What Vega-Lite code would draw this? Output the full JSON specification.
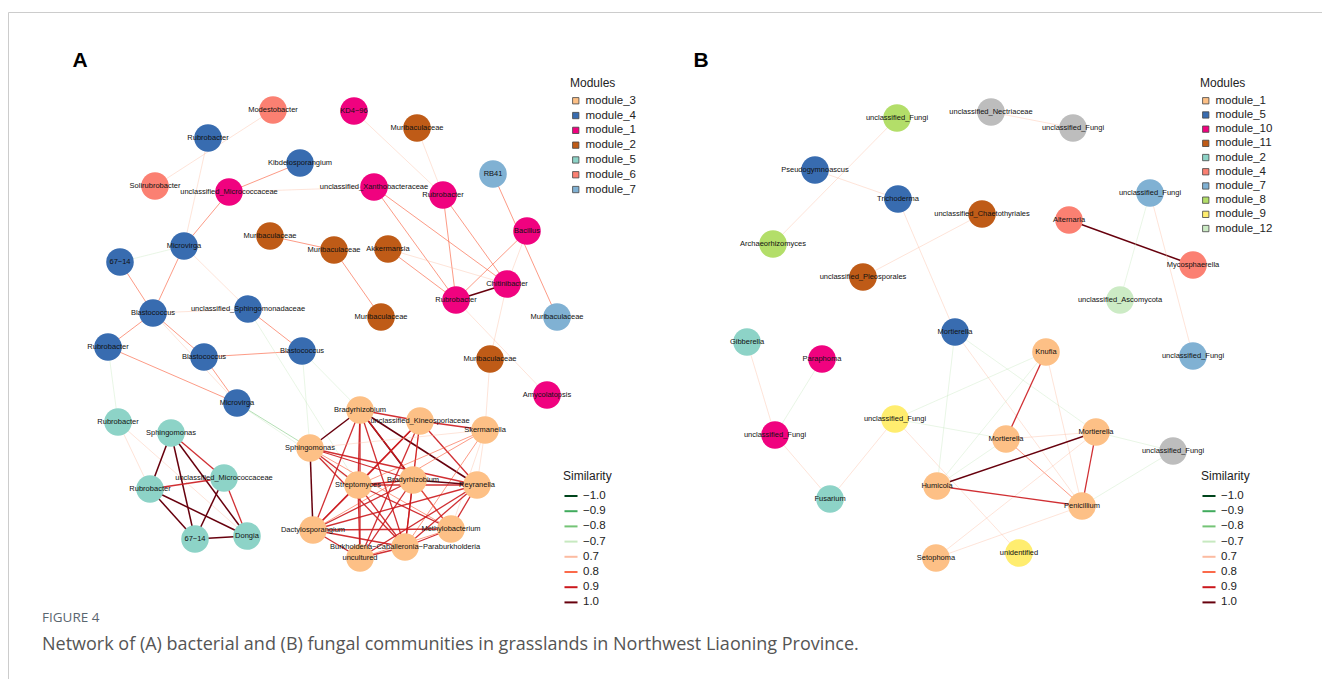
{
  "$schema": "https://vega.github.io/schema/vega-lite/v6.json",
  "width": 1314,
  "height": 667,
  "autosize": {"type": "none"},
  "padding": {"left": 8, "top": 12, "right": 0, "bottom": 0},
  "title": {
    "text": "FIGURE 4",
    "subtitle": "Network of (A) bacterial and (B) fungal communities in grasslands in Northwest Liaoning Province.",
    "orient": "bottom", "anchor": "start", "frame": "group",
    "offset": -68, "dx": 34,
    "font": "Open Sans", "fontSize": 13.5, "fontWeight": "normal", "color": "#5a6670",
    "subtitleFont": "Open Sans", "subtitleFontSize": 18, "subtitleColor": "#555555", "subtitlePadding": 11
  },
  "config": {
    "view": {"stroke": "#cccccc", "strokeWidth": 1},
    "font": "Liberation Sans",
    "legend": {
      "labelFont": "Liberation Sans", "titleFont": "Liberation Sans",
      "labelFontSize": 11.5, "titleFontSize": 12, "titleFontWeight": "normal",
      "labelColor": "#222222", "titleColor": "#222222", "rowPadding": 1.5, "titlePadding": 5
    }
  },
  "datasets": {
    "nodes": [
      {"id": "a1", "panel": "A", "name": "Modestobacter", "module": "module_6", "x": 273, "y": 110},
      {"id": "a2", "panel": "A", "name": "KD4−96", "module": "module_1", "x": 354, "y": 111},
      {"id": "a3", "panel": "A", "name": "Muribaculaceae", "module": "module_2", "x": 417, "y": 128},
      {"id": "a4", "panel": "A", "name": "Rubrobacter", "module": "module_4", "x": 208, "y": 138},
      {"id": "a5", "panel": "A", "name": "Kibdelosporangium", "module": "module_4", "x": 300, "y": 163},
      {"id": "a6", "panel": "A", "name": "RB41", "module": "module_7", "x": 493, "y": 174},
      {"id": "a7", "panel": "A", "name": "Solirubrobacter", "module": "module_6", "x": 155, "y": 186},
      {"id": "a8", "panel": "A", "name": "unclassified_Micrococcaceae", "module": "module_1", "x": 229, "y": 192},
      {"id": "a9", "panel": "A", "name": "unclassified_Xanthobacteraceae", "module": "module_1", "x": 374, "y": 187},
      {"id": "a10", "panel": "A", "name": "Rubrobacter", "module": "module_1", "x": 443, "y": 195},
      {"id": "a11", "panel": "A", "name": "Bacillus", "module": "module_1", "x": 527, "y": 231},
      {"id": "a12", "panel": "A", "name": "Muribaculaceae", "module": "module_2", "x": 270, "y": 236},
      {"id": "a13", "panel": "A", "name": "Muribaculaceae", "module": "module_2", "x": 334, "y": 250},
      {"id": "a14", "panel": "A", "name": "Akkermansia", "module": "module_2", "x": 388, "y": 249},
      {"id": "a15", "panel": "A", "name": "Microvirga", "module": "module_4", "x": 184, "y": 246},
      {"id": "a16", "panel": "A", "name": "67−14", "module": "module_4", "x": 120, "y": 262},
      {"id": "a17", "panel": "A", "name": "Chitinibacter", "module": "module_1", "x": 507, "y": 284},
      {"id": "a18", "panel": "A", "name": "Rubrobacter", "module": "module_1", "x": 456, "y": 300},
      {"id": "a19", "panel": "A", "name": "Blastococcus", "module": "module_4", "x": 153, "y": 313},
      {"id": "a20", "panel": "A", "name": "unclassified_Sphingomonadaceae", "module": "module_4", "x": 248, "y": 309},
      {"id": "a21", "panel": "A", "name": "Muribaculaceae", "module": "module_2", "x": 381, "y": 317},
      {"id": "a22", "panel": "A", "name": "Muribaculaceae", "module": "module_7", "x": 557, "y": 317},
      {"id": "a23", "panel": "A", "name": "Rubrobacter", "module": "module_4", "x": 108, "y": 347},
      {"id": "a24", "panel": "A", "name": "Blastococcus", "module": "module_4", "x": 204, "y": 357},
      {"id": "a25", "panel": "A", "name": "Blastococcus", "module": "module_4", "x": 302, "y": 351},
      {"id": "a26", "panel": "A", "name": "Muribaculaceae", "module": "module_2", "x": 490, "y": 359},
      {"id": "a27", "panel": "A", "name": "Amycolatopsis", "module": "module_1", "x": 547, "y": 395},
      {"id": "a28", "panel": "A", "name": "Microvirga", "module": "module_4", "x": 237, "y": 403},
      {"id": "a29", "panel": "A", "name": "Bradyrhizobium", "module": "module_3", "x": 360, "y": 410},
      {"id": "a30", "panel": "A", "name": "unclassified_Kineosporiaceae", "module": "module_3", "x": 420, "y": 421},
      {"id": "a31", "panel": "A", "name": "Skermanella", "module": "module_3", "x": 485, "y": 430},
      {"id": "a32", "panel": "A", "name": "Rubrobacter", "module": "module_5", "x": 118, "y": 422},
      {"id": "a33", "panel": "A", "name": "Sphingomonas", "module": "module_5", "x": 171, "y": 433},
      {"id": "a34", "panel": "A", "name": "Sphingomonas", "module": "module_3", "x": 310, "y": 448},
      {"id": "a35", "panel": "A", "name": "unclassified_Micrococcaceae", "module": "module_5", "x": 224, "y": 478},
      {"id": "a36", "panel": "A", "name": "Streptomyces", "module": "module_3", "x": 358, "y": 485},
      {"id": "a37", "panel": "A", "name": "Bradyrhizobium", "module": "module_3", "x": 413, "y": 480},
      {"id": "a38", "panel": "A", "name": "Reyranella", "module": "module_3", "x": 477, "y": 485},
      {"id": "a39", "panel": "A", "name": "Rubrobacter", "module": "module_5", "x": 150, "y": 489},
      {"id": "a40", "panel": "A", "name": "Dactylosporangium", "module": "module_3", "x": 313, "y": 530},
      {"id": "a41", "panel": "A", "name": "Methylobacterium", "module": "module_3", "x": 451, "y": 529},
      {"id": "a42", "panel": "A", "name": "Burkholderia−Caballeronia−Paraburkholderia", "module": "module_3", "x": 405, "y": 547},
      {"id": "a43", "panel": "A", "name": "uncultured", "module": "module_3", "x": 360, "y": 558},
      {"id": "a44", "panel": "A", "name": "67−14", "module": "module_5", "x": 195, "y": 539},
      {"id": "a45", "panel": "A", "name": "Dongia", "module": "module_5", "x": 247, "y": 536},
      {"id": "b1", "panel": "B", "name": "unclassified_Fungi", "module": "module_8", "x": 897, "y": 118},
      {"id": "b2", "panel": "B", "name": "unclassified_Nectriaceae", "module": "none", "x": 991, "y": 112},
      {"id": "b3", "panel": "B", "name": "unclassified_Fungi", "module": "none", "x": 1073, "y": 128},
      {"id": "b4", "panel": "B", "name": "Pseudogymnoascus", "module": "module_5", "x": 815, "y": 170},
      {"id": "b5", "panel": "B", "name": "Trichoderma", "module": "module_5", "x": 898, "y": 199},
      {"id": "b6", "panel": "B", "name": "unclassified_Fungi", "module": "module_7", "x": 1150, "y": 193},
      {"id": "b7", "panel": "B", "name": "unclassified_Chaetothyriales", "module": "module_11", "x": 982, "y": 214},
      {"id": "b8", "panel": "B", "name": "Alternaria", "module": "module_4", "x": 1069, "y": 220},
      {"id": "b9", "panel": "B", "name": "Archaeorhizomyces", "module": "module_8", "x": 773, "y": 244},
      {"id": "b10", "panel": "B", "name": "Mycosphaerella", "module": "module_4", "x": 1193, "y": 265},
      {"id": "b11", "panel": "B", "name": "unclassified_Pleosporales", "module": "module_11", "x": 863, "y": 277},
      {"id": "b12", "panel": "B", "name": "unclassified_Ascomycota", "module": "module_12", "x": 1120, "y": 300},
      {"id": "b13", "panel": "B", "name": "Mortierella", "module": "module_5", "x": 955, "y": 332},
      {"id": "b14", "panel": "B", "name": "Gibberella", "module": "module_2", "x": 747, "y": 342},
      {"id": "b15", "panel": "B", "name": "Knufia", "module": "module_1", "x": 1046, "y": 352},
      {"id": "b16", "panel": "B", "name": "unclassified_Fungi", "module": "module_7", "x": 1193, "y": 356},
      {"id": "b17", "panel": "B", "name": "Paraphoma", "module": "module_10", "x": 822, "y": 359},
      {"id": "b18", "panel": "B", "name": "unclassified_Fungi", "module": "module_9", "x": 895, "y": 419},
      {"id": "b19", "panel": "B", "name": "unclassified_Fungi", "module": "module_10", "x": 775, "y": 435},
      {"id": "b20", "panel": "B", "name": "Mortierella", "module": "module_1", "x": 1006, "y": 439},
      {"id": "b21", "panel": "B", "name": "Mortierella", "module": "module_1", "x": 1096, "y": 432},
      {"id": "b22", "panel": "B", "name": "unclassified_Fungi", "module": "none", "x": 1173, "y": 451},
      {"id": "b23", "panel": "B", "name": "Humicola", "module": "module_1", "x": 937, "y": 486},
      {"id": "b24", "panel": "B", "name": "Fusarium", "module": "module_2", "x": 830, "y": 499},
      {"id": "b25", "panel": "B", "name": "Penicillium", "module": "module_1", "x": 1082, "y": 506},
      {"id": "b26", "panel": "B", "name": "Setophoma", "module": "module_1", "x": 936, "y": 558},
      {"id": "b27", "panel": "B", "name": "unidentified", "module": "module_9", "x": 1019, "y": 553}
    ],
    "edges": [
      {"panel": "A", "source": "a1", "target": "a7", "sim": "0.7"},
      {"panel": "A", "source": "a4", "target": "a15", "sim": "0.7"},
      {"panel": "A", "source": "a5", "target": "a8", "sim": "0.8"},
      {"panel": "A", "source": "a8", "target": "a9", "sim": "0.7"},
      {"panel": "A", "source": "a8", "target": "a15", "sim": "0.8"},
      {"panel": "A", "source": "a2", "target": "a10", "sim": "0.7"},
      {"panel": "A", "source": "a3", "target": "a10", "sim": "0.7"},
      {"panel": "A", "source": "a9", "target": "a18", "sim": "0.8"},
      {"panel": "A", "source": "a9", "target": "a17", "sim": "0.8"},
      {"panel": "A", "source": "a10", "target": "a18", "sim": "0.8"},
      {"panel": "A", "source": "a10", "target": "a17", "sim": "0.8"},
      {"panel": "A", "source": "a6", "target": "a22", "sim": "0.8"},
      {"panel": "A", "source": "a11", "target": "a18", "sim": "0.8"},
      {"panel": "A", "source": "a11", "target": "a17", "sim": "0.7"},
      {"panel": "A", "source": "a17", "target": "a18", "sim": "1.0"},
      {"panel": "A", "source": "a14", "target": "a18", "sim": "0.8"},
      {"panel": "A", "source": "a14", "target": "a17", "sim": "0.7"},
      {"panel": "A", "source": "a12", "target": "a13", "sim": "0.8"},
      {"panel": "A", "source": "a13", "target": "a21", "sim": "0.8"},
      {"panel": "A", "source": "a26", "target": "a17", "sim": "0.7"},
      {"panel": "A", "source": "a26", "target": "a31", "sim": "0.7"},
      {"panel": "A", "source": "a27", "target": "a18", "sim": "0.7"},
      {"panel": "A", "source": "a15", "target": "a16", "sim": "−0.7"},
      {"panel": "A", "source": "a15", "target": "a19", "sim": "0.8"},
      {"panel": "A", "source": "a16", "target": "a19", "sim": "0.8"},
      {"panel": "A", "source": "a19", "target": "a20", "sim": "0.7"},
      {"panel": "A", "source": "a19", "target": "a23", "sim": "0.8"},
      {"panel": "A", "source": "a19", "target": "a24", "sim": "0.8"},
      {"panel": "A", "source": "a19", "target": "a28", "sim": "0.7"},
      {"panel": "A", "source": "a24", "target": "a25", "sim": "0.8"},
      {"panel": "A", "source": "a20", "target": "a25", "sim": "0.8"},
      {"panel": "A", "source": "a23", "target": "a28", "sim": "0.8"},
      {"panel": "A", "source": "a24", "target": "a28", "sim": "0.8"},
      {"panel": "A", "source": "a28", "target": "a34", "sim": "−0.8"},
      {"panel": "A", "source": "a28", "target": "a36", "sim": "−0.7"},
      {"panel": "A", "source": "a15", "target": "a20", "sim": "0.7"},
      {"panel": "A", "source": "a25", "target": "a34", "sim": "−0.7"},
      {"panel": "A", "source": "a25", "target": "a29", "sim": "−0.7"},
      {"panel": "A", "source": "a20", "target": "a36", "sim": "−0.7"},
      {"panel": "A", "source": "a32", "target": "a39", "sim": "0.7"},
      {"panel": "A", "source": "a23", "target": "a32", "sim": "−0.7"},
      {"panel": "A", "source": "a32", "target": "a45", "sim": "0.7"},
      {"panel": "A", "source": "a33", "target": "a39", "sim": "1.0"},
      {"panel": "A", "source": "a33", "target": "a44", "sim": "1.0"},
      {"panel": "A", "source": "a33", "target": "a45", "sim": "1.0"},
      {"panel": "A", "source": "a33", "target": "a35", "sim": "0.9"},
      {"panel": "A", "source": "a39", "target": "a35", "sim": "0.9"},
      {"panel": "A", "source": "a39", "target": "a44", "sim": "1.0"},
      {"panel": "A", "source": "a39", "target": "a45", "sim": "1.0"},
      {"panel": "A", "source": "a35", "target": "a44", "sim": "1.0"},
      {"panel": "A", "source": "a35", "target": "a45", "sim": "0.9"},
      {"panel": "A", "source": "a44", "target": "a45", "sim": "1.0"},
      {"panel": "A", "source": "a29", "target": "a34", "sim": "1.0"},
      {"panel": "A", "source": "a29", "target": "a30", "sim": "0.9"},
      {"panel": "A", "source": "a29", "target": "a38", "sim": "1.0"},
      {"panel": "A", "source": "a29", "target": "a37", "sim": "1.0"},
      {"panel": "A", "source": "a29", "target": "a36", "sim": "0.9"},
      {"panel": "A", "source": "a29", "target": "a40", "sim": "0.9"},
      {"panel": "A", "source": "a29", "target": "a42", "sim": "0.9"},
      {"panel": "A", "source": "a29", "target": "a43", "sim": "0.9"},
      {"panel": "A", "source": "a29", "target": "a41", "sim": "0.9"},
      {"panel": "A", "source": "a30", "target": "a31", "sim": "0.9"},
      {"panel": "A", "source": "a30", "target": "a38", "sim": "0.9"},
      {"panel": "A", "source": "a30", "target": "a36", "sim": "0.9"},
      {"panel": "A", "source": "a30", "target": "a40", "sim": "0.9"},
      {"panel": "A", "source": "a30", "target": "a37", "sim": "0.8"},
      {"panel": "A", "source": "a30", "target": "a43", "sim": "0.9"},
      {"panel": "A", "source": "a30", "target": "a42", "sim": "0.9"},
      {"panel": "A", "source": "a31", "target": "a38", "sim": "0.7"},
      {"panel": "A", "source": "a31", "target": "a34", "sim": "0.7"},
      {"panel": "A", "source": "a31", "target": "a36", "sim": "0.8"},
      {"panel": "A", "source": "a31", "target": "a40", "sim": "0.8"},
      {"panel": "A", "source": "a31", "target": "a42", "sim": "0.8"},
      {"panel": "A", "source": "a31", "target": "a41", "sim": "0.7"},
      {"panel": "A", "source": "a34", "target": "a40", "sim": "1.0"},
      {"panel": "A", "source": "a34", "target": "a36", "sim": "0.9"},
      {"panel": "A", "source": "a34", "target": "a37", "sim": "0.9"},
      {"panel": "A", "source": "a34", "target": "a38", "sim": "0.9"},
      {"panel": "A", "source": "a34", "target": "a42", "sim": "0.9"},
      {"panel": "A", "source": "a34", "target": "a41", "sim": "0.8"},
      {"panel": "A", "source": "a36", "target": "a37", "sim": "0.9"},
      {"panel": "A", "source": "a36", "target": "a38", "sim": "0.9"},
      {"panel": "A", "source": "a36", "target": "a40", "sim": "0.9"},
      {"panel": "A", "source": "a36", "target": "a42", "sim": "0.9"},
      {"panel": "A", "source": "a36", "target": "a43", "sim": "0.9"},
      {"panel": "A", "source": "a36", "target": "a41", "sim": "0.9"},
      {"panel": "A", "source": "a37", "target": "a38", "sim": "1.0"},
      {"panel": "A", "source": "a37", "target": "a40", "sim": "0.9"},
      {"panel": "A", "source": "a37", "target": "a42", "sim": "0.9"},
      {"panel": "A", "source": "a37", "target": "a43", "sim": "0.9"},
      {"panel": "A", "source": "a37", "target": "a41", "sim": "0.8"},
      {"panel": "A", "source": "a38", "target": "a40", "sim": "0.9"},
      {"panel": "A", "source": "a38", "target": "a42", "sim": "0.9"},
      {"panel": "A", "source": "a38", "target": "a43", "sim": "0.9"},
      {"panel": "A", "source": "a38", "target": "a41", "sim": "0.9"},
      {"panel": "A", "source": "a40", "target": "a42", "sim": "0.9"},
      {"panel": "A", "source": "a40", "target": "a43", "sim": "0.9"},
      {"panel": "A", "source": "a40", "target": "a41", "sim": "0.9"},
      {"panel": "A", "source": "a41", "target": "a42", "sim": "0.9"},
      {"panel": "A", "source": "a42", "target": "a43", "sim": "0.9"},
      {"panel": "A", "source": "a41", "target": "a43", "sim": "0.8"},
      {"panel": "B", "source": "b1", "target": "b9", "sim": "0.7"},
      {"panel": "B", "source": "b4", "target": "b5", "sim": "0.7"},
      {"panel": "B", "source": "b2", "target": "b3", "sim": "0.7"},
      {"panel": "B", "source": "b11", "target": "b7", "sim": "0.7"},
      {"panel": "B", "source": "b5", "target": "b13", "sim": "0.7"},
      {"panel": "B", "source": "b8", "target": "b10", "sim": "1.0"},
      {"panel": "B", "source": "b6", "target": "b16", "sim": "0.7"},
      {"panel": "B", "source": "b6", "target": "b12", "sim": "−0.7"},
      {"panel": "B", "source": "b14", "target": "b19", "sim": "0.7"},
      {"panel": "B", "source": "b17", "target": "b19", "sim": "−0.7"},
      {"panel": "B", "source": "b19", "target": "b24", "sim": "0.7"},
      {"panel": "B", "source": "b18", "target": "b24", "sim": "0.7"},
      {"panel": "B", "source": "b18", "target": "b15", "sim": "−0.7"},
      {"panel": "B", "source": "b18", "target": "b20", "sim": "−0.7"},
      {"panel": "B", "source": "b18", "target": "b27", "sim": "0.7"},
      {"panel": "B", "source": "b13", "target": "b23", "sim": "−0.7"},
      {"panel": "B", "source": "b13", "target": "b25", "sim": "0.7"},
      {"panel": "B", "source": "b13", "target": "b21", "sim": "−0.7"},
      {"panel": "B", "source": "b15", "target": "b20", "sim": "0.9"},
      {"panel": "B", "source": "b15", "target": "b25", "sim": "0.7"},
      {"panel": "B", "source": "b15", "target": "b23", "sim": "−0.7"},
      {"panel": "B", "source": "b20", "target": "b21", "sim": "0.7"},
      {"panel": "B", "source": "b20", "target": "b25", "sim": "0.8"},
      {"panel": "B", "source": "b20", "target": "b23", "sim": "−0.7"},
      {"panel": "B", "source": "b21", "target": "b23", "sim": "1.0"},
      {"panel": "B", "source": "b21", "target": "b25", "sim": "0.9"},
      {"panel": "B", "source": "b21", "target": "b26", "sim": "0.7"},
      {"panel": "B", "source": "b21", "target": "b22", "sim": "−0.7"},
      {"panel": "B", "source": "b23", "target": "b25", "sim": "0.9"},
      {"panel": "B", "source": "b25", "target": "b26", "sim": "0.7"},
      {"panel": "B", "source": "b25", "target": "b22", "sim": "−0.7"}
    ],
    "letters": [
      {"letter": "A", "x": 80, "y": 61},
      {"letter": "B", "x": 701, "y": 61}
    ]
  },
  "layer": [
    {
      "data": {"name": "edges"},
      "transform": [
        {"filter": "datum.panel === 'A'"},
        {"lookup": "source", "from": {"data": {"name": "nodes"}, "key": "id", "fields": ["x", "y"]}, "as": ["sx", "sy"]},
        {"lookup": "target", "from": {"data": {"name": "nodes"}, "key": "id", "fields": ["x", "y"]}, "as": ["tx", "ty"]}
      ],
      "mark": {"type": "rule"},
      "encoding": {
        "x": {"field": "sx", "type": "quantitative", "scale": {"domain": [8, 1322], "nice": false, "zero": false}, "axis": null},
        "y": {"field": "sy", "type": "quantitative", "scale": {"domain": [12, 679], "nice": false, "zero": false, "reverse": true}, "axis": null},
        "x2": {"field": "tx"},
        "y2": {"field": "ty"},
        "color": {
          "field": "sim", "type": "nominal",
          "scale": {"domain": ["−1.0", "−0.9", "−0.8", "−0.7", "0.7", "0.8", "0.9", "1.0"], "range": ["#00441b", "#41ab5d", "#74c476", "#c7e9c0", "#fcbba1", "#fb6a4a", "#cb181d", "#67000d"]},
          "legend": {"title": "Similarity", "orient": "none", "legendX": 555, "legendY": 459, "symbolType": "stroke", "symbolStrokeWidth": 2, "symbolSize": 170, "symbolOpacity": 1, "rowPadding": 1.2}
        },
        "strokeWidth": {"field": "sim", "type": "ordinal", "scale": {"type": "ordinal", "domain": ["−1.0", "−0.9", "−0.8", "−0.7", "0.7", "0.8", "0.9", "1.0"], "range": [1.5, 1.3, 0.9, 0.8, 0.8, 0.9, 1.3, 1.5]}, "legend": null},
        "strokeOpacity": {"field": "sim", "type": "ordinal", "scale": {"type": "ordinal", "domain": ["−1.0", "−0.9", "−0.8", "−0.7", "0.7", "0.8", "0.9", "1.0"], "range": [1, 0.85, 0.6, 0.5, 0.5, 0.75, 0.9, 1]}, "legend": null}
      }
    },
    {
      "data": {"name": "edges"},
      "transform": [
        {"filter": "datum.panel === 'B'"},
        {"lookup": "source", "from": {"data": {"name": "nodes"}, "key": "id", "fields": ["x", "y"]}, "as": ["sx", "sy"]},
        {"lookup": "target", "from": {"data": {"name": "nodes"}, "key": "id", "fields": ["x", "y"]}, "as": ["tx", "ty"]}
      ],
      "mark": {"type": "rule"},
      "encoding": {
        "x": {"field": "sx", "type": "quantitative"},
        "y": {"field": "sy", "type": "quantitative"},
        "x2": {"field": "tx"},
        "y2": {"field": "ty"},
        "color": {
          "field": "sim", "type": "nominal",
          "scale": {"domain": ["−1.0", "−0.9", "−0.8", "−0.7", "0.7", "0.8", "0.9", "1.0"], "range": ["#00441b", "#41ab5d", "#74c476", "#c7e9c0", "#fcbba1", "#fb6a4a", "#cb181d", "#67000d"]},
          "legend": {"title": "Similarity", "orient": "none", "legendX": 1193, "legendY": 459, "symbolType": "stroke", "symbolStrokeWidth": 2, "symbolSize": 170, "symbolOpacity": 1, "rowPadding": 1.2}
        },
        "strokeWidth": {"field": "sim", "type": "ordinal", "scale": {"type": "ordinal", "domain": ["−1.0", "−0.9", "−0.8", "−0.7", "0.7", "0.8", "0.9", "1.0"], "range": [1.5, 1.3, 0.9, 0.8, 0.8, 0.9, 1.3, 1.5]}, "legend": null},
        "strokeOpacity": {"field": "sim", "type": "ordinal", "scale": {"type": "ordinal", "domain": ["−1.0", "−0.9", "−0.8", "−0.7", "0.7", "0.8", "0.9", "1.0"], "range": [1, 0.85, 0.6, 0.5, 0.5, 0.75, 0.9, 1]}, "legend": null}
      }
    },
    {
      "data": {"name": "nodes"},
      "transform": [{"filter": "datum.panel === 'A'"}],
      "mark": {"type": "circle", "size": 760, "opacity": 1},
      "encoding": {
        "x": {"field": "x", "type": "quantitative"},
        "y": {"field": "y", "type": "quantitative"},
        "color": {
          "field": "module", "type": "nominal",
          "scale": {"domain": ["module_3", "module_4", "module_1", "module_2", "module_5", "module_6", "module_7"], "range": ["#fdc086", "#386cb0", "#f0027f", "#bf5b17", "#8dd3c7", "#fb8072", "#80b1d3"]},
          "legend": {"title": "Modules", "orient": "none", "legendX": 562, "legendY": 66, "symbolType": "square", "symbolSize": 40, "symbolStrokeColor": "#444444", "symbolStrokeWidth": 0.8, "symbolOpacity": 1, "rowPadding": 1.8}
        }
      }
    },
    {
      "data": {"name": "nodes"},
      "transform": [{"filter": "datum.panel === 'B'"}],
      "mark": {"type": "circle", "size": 760, "opacity": 1},
      "encoding": {
        "x": {"field": "x", "type": "quantitative"},
        "y": {"field": "y", "type": "quantitative"},
        "color": {
          "condition": {"test": "datum.module === 'none'", "value": "#bdbdbd"},
          "field": "module", "type": "nominal",
          "scale": {"domain": ["module_1", "module_5", "module_10", "module_11", "module_2", "module_4", "module_7", "module_8", "module_9", "module_12"], "range": ["#fdc086", "#386cb0", "#f0027f", "#bf5b17", "#8dd3c7", "#fb8072", "#80b1d3", "#b3de69", "#ffed6f", "#ccebc5"]},
          "legend": {"title": "Modules", "orient": "none", "legendX": 1192, "legendY": 66, "symbolType": "square", "symbolSize": 40, "symbolStrokeColor": "#444444", "symbolStrokeWidth": 0.8, "symbolOpacity": 1, "rowPadding": 1.2}
        }
      }
    },
    {
      "data": {"name": "nodes"},
      "mark": {"type": "text", "fontSize": 7.5, "font": "Liberation Sans", "color": "#111111", "align": "center", "baseline": "middle"},
      "encoding": {
        "x": {"field": "x", "type": "quantitative"},
        "y": {"field": "y", "type": "quantitative"},
        "text": {"field": "name"}
      }
    },
    {
      "data": {"name": "letters"},
      "mark": {"type": "text", "fontSize": 21, "fontWeight": "bold", "font": "Liberation Sans", "color": "#000000", "align": "center", "baseline": "middle"},
      "encoding": {
        "x": {"field": "x", "type": "quantitative"},
        "y": {"field": "y", "type": "quantitative"},
        "text": {"field": "letter"}
      }
    }
  ],
  "resolve": {"scale": {"color": "independent"}, "legend": {"color": "independent"}}
}
